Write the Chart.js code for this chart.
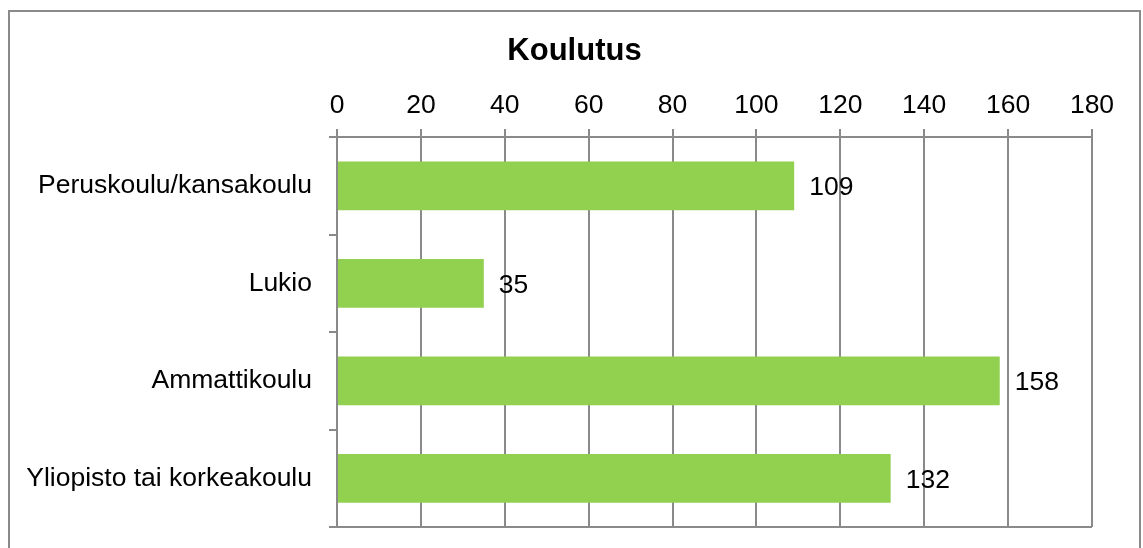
<!DOCTYPE html>
<html>
<head>
<meta charset="utf-8">
<script src="https://cdn.jsdelivr.net/npm/chart.js@4/dist/chart.umd.min.js"></script>
<style>
    body { margin: 0; background: #fff; }
    #frame {
        position: absolute;
        left: 8px;
        top: 10px;
        width: 1129px;
        height: 560px;
        border: 2px solid #8a8a8a;
    }
    #wrap {
        position: absolute;
        left: 0;
        top: 0;
        width: 1129px;
        height: 536px;
    }
</style>
</head>
<body>
<div id="frame"><div id="wrap"><canvas id="chart"></canvas></div></div>
<script>
"use strict";

const categories = ["Peruskoulu/kansakoulu", "Lukio", "Ammattikoulu", "Yliopisto tai korkeakoulu"];
const counts = [109, 35, 158, 132];
const xTicks = [0, 20, 40, 60, 80, 100, 120, 140, 160, 180];

const gridGray = "#8a8a8a";
const fontFamily = "Arial, 'Liberation Sans', sans-serif";

const valueLabels = {
    id: "valueLabels",
    afterDatasetsDraw(chart) {
        const ctx = chart.ctx;
        const meta = chart.getDatasetMeta(0);
        ctx.save();
        ctx.font = "26.5px " + fontFamily;
        ctx.fillStyle = "#000";
        ctx.textBaseline = "middle";
        ctx.textAlign = "left";
        meta.data.forEach((bar, i) => {
            ctx.fillText(String(counts[i]), bar.x + 15, bar.y + 2);
        });
        ctx.restore();
    }
};

function getX() {
    return {
        position: "top",
        min: xTicks[0],
        max: xTicks[xTicks.length - 1],
        afterBuildTicks: scale => {
            scale.ticks = xTicks.map(v => ({ value: v }));
        },
        afterFit: scale => {
            scale.paddingRight = 47;
        },
        ticks: {
            color: "#000",
            padding: 7,
            font: { size: 26.5, family: fontFamily }
        },
        grid: {
            color: gridGray,
            lineWidth: 2,
            tickLength: 8
        },
        border: { color: gridGray, width: 2 }
    };
}

function getY() {
    return {
        offset: true,
        afterFit: scale => {
            scale.width = 327;
            scale.paddingTop = 0;
            scale.paddingBottom = 0;
        },
        ticks: {
            color: "#000",
            padding: 17,
            font: { size: 26.5, family: fontFamily }
        },
        grid: {
            offset: true,
            color: ctx => ctx.type === "scale" ? gridGray : "rgba(0,0,0,0)",
            tickColor: gridGray,
            lineWidth: 2,
            tickLength: 8
        },
        border: { color: gridGray, width: 2 }
    };
}

function linechart() {
    const ctx = document.querySelector("#chart").getContext("2d");
    new Chart(ctx, {
        type: "bar",
        data: {
            labels: categories,
            datasets: [{
                data: counts,
                backgroundColor: "#92d050",
                categoryPercentage: 1,
                barPercentage: 0.5
            }]
        },
        options: {
            indexAxis: "y",
            responsive: true,
            maintainAspectRatio: false,
            animation: false,
            layout: { padding: { left: 0, right: 0, top: 13, bottom: 21 } },
            scales: { x: getX(), y: getY() },
            plugins: {
                legend: { display: false },
                tooltip: { enabled: false },
                title: {
                    display: true,
                    text: "Koulutus",
                    color: "#000",
                    font: { size: 31, weight: "bold", family: fontFamily },
                    padding: { top: 8, bottom: 13 }
                }
            }
        },
        plugins: [valueLabels]
    });
}

linechart();
</script>
</body>
</html>
